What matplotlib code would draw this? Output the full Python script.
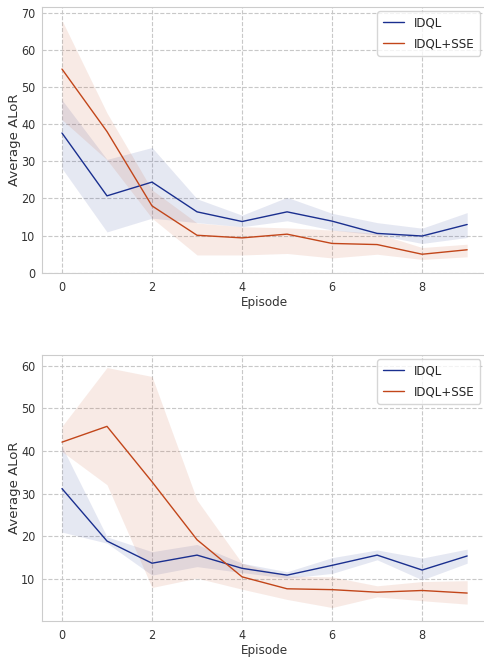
import numpy as np
import matplotlib.pyplot as plt
import seaborn as sns

episodes = np.arange(10)

# top panel
top_idql = [37.6, 20.7, 24.4, 16.4, 13.8, 16.4, 13.9, 10.6, 9.9, 13.0]
top_idql_lo = [28.1, 11.0, 14.7, 13.5, 12.4, 14.0, 11.5, 10.2, 7.9, 9.5]
top_idql_hi = [46.5, 30.5, 33.7, 19.9, 15.5, 20.3, 16.0, 13.5, 12.0, 16.2]
top_sse = [54.8, 38.0, 18.0, 10.1, 9.4, 10.4, 7.9, 7.6, 5.0, 6.2]
top_sse_lo = [41.2, 30.4, 14.7, 4.8, 4.8, 5.2, 4.0, 5.0, 3.6, 4.3]
top_sse_hi = [67.9, 43.0, 22.3, 13.4, 12.4, 12.1, 11.5, 10.6, 6.8, 7.7]

# bottom panel
bot_idql = [31.2, 18.9, 13.7, 15.6, 12.5, 10.9, 13.2, 15.6, 12.1, 15.4]
bot_idql_lo = [21.0, 18.4, 10.9, 12.9, 11.5, 10.2, 11.3, 14.5, 9.8, 13.7]
bot_idql_hi = [41.1, 19.9, 16.4, 18.1, 13.7, 11.7, 15.0, 16.8, 14.9, 17.0]
bot_sse = [42.1, 45.8, 32.8, 19.2, 10.5, 7.7, 7.5, 6.9, 7.3, 6.7]
bot_sse_lo = [39.9, 32.1, 8.0, 10.2, 7.6, 5.2, 3.3, 5.8, 4.9, 4.1]
bot_sse_hi = [45.8, 59.6, 57.5, 28.5, 13.7, 10.7, 10.5, 8.4, 9.4, 9.6]

sns.set_style("whitegrid", {"grid.linestyle": "--", "axes.edgecolor": "#cccccc"})
plt.rcParams['font.family'] = ['DejaVu Sans']
plt.rcParams['font.stretch'] = 'condensed'  # the picture looks squeezed sideways

blue = "#1a2f8f"
orange = "#c2461a"

fig = plt.figure(figsize=(4.85, 6.59), dpi=100)
ax1 = fig.add_axes([0.086, 0.586, 0.919, 0.404])
ax2 = fig.add_axes([0.086, 0.0577, 0.919, 0.404])

panels = [
    (ax1, top_idql, top_idql_lo, top_idql_hi, top_sse, top_sse_lo, top_sse_hi, (0, 71.6)),
    (ax2, bot_idql, bot_idql_lo, bot_idql_hi, bot_sse, bot_sse_lo, bot_sse_hi, (0.15, 62.6)),
]

for ax, a, alo, ahi, b, blo, bhi, ylim in panels:
    ax.fill_between(episodes, alo, ahi, color=blue, alpha=0.11, linewidth=0)
    ax.fill_between(episodes, blo, bhi, color=orange, alpha=0.11, linewidth=0)
    ax.plot(episodes, a, color=blue, linewidth=1.0, label="IDQL")
    ax.plot(episodes, b, color=orange, linewidth=1.0, label="IDQL+SSE")
    ax.set_xlim(-0.45, 9.45)
    ax.set_ylim(*ylim)
    ax.set_xticks([0, 2, 4, 6, 8])
    ax.tick_params(labelsize=9, colors="#333333", length=0)
    ax.tick_params(axis="x", pad=6)
    ax.tick_params(axis="y", pad=4.5)
    ax.set_xlabel("Episode", fontsize=9.5, color="#333333", labelpad=1)
    ax.set_ylabel("Average ALoR", fontsize=9.5, color="#333333", fontstretch="normal")
    ax.yaxis.set_label_coords(-0.047, 0.5)
    ax.grid(True, linestyle="--", color="#c8c8c8", linewidth=0.8)
    for s in ax.spines.values():
        s.set_color("#cccccc")
    ax.legend(loc="upper right", fontsize=9.5, frameon=True, handlelength=1.6,
              labelspacing=0.6, borderaxespad=0, bbox_to_anchor=(0.984, 0.983))

ax1.set_yticks(range(0, 71, 10))
ax2.set_yticks(range(10, 61, 10))

fig.savefig("out.png", dpi=100)
